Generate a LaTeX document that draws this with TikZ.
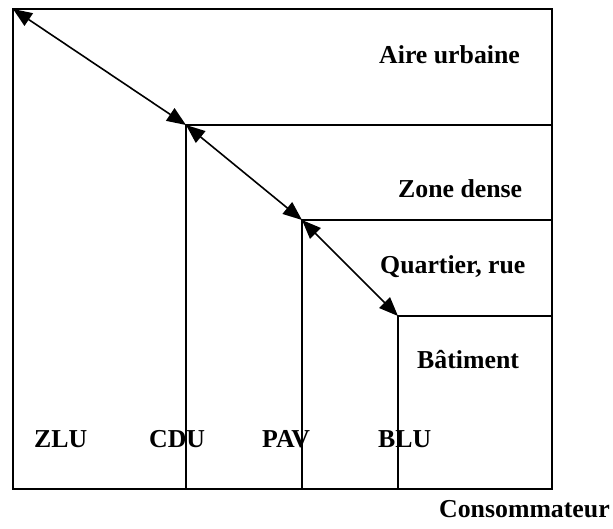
\documentclass[tikz,border=0pt]{standalone}
\usepackage{fontspec}
\setmainfont{Liberation Serif}
\usetikzlibrary{arrows.meta}
\tikzset{
  levellabel/.style={font=\fontsize{25.8}{30}\selectfont\bfseries, anchor=base west, inner sep=0pt},
  scalearrow/.style={{Triangle[length=19pt,width=15pt]}-{Triangle[length=19pt,width=15pt]}, line width=1.6pt}
}
\begin{document}
\begin{tikzpicture}[x=1pt,y=-1pt]
        \useasboundingbox (0,0) rectangle (613,528);
        % frame
        \draw [line width=2pt] (13,9) rectangle (552,489);
        % corners of the levels
        \coordinate (zlu) at (13,9);
        \coordinate (cdu) at (186,125);
        \coordinate (pav) at (302,220);
        \coordinate (blu) at (398,316);
        % levels
        \draw [line width=1.6pt] (552,125) -- (cdu) -- (186,489);
        \draw [line width=1.6pt] (552,220) -- (pav) -- (302,489);
        \draw [line width=1.6pt] (552,316) -- (blu) -- (398,489);
        % arrows
        \draw [scalearrow] (zlu) -- (cdu);
        \draw [scalearrow] (cdu) -- (pav);
        \draw [scalearrow] (pav) -- (blu);
        % labels
        \node (aire) [levellabel] at (379,63) {Aire urbaine};
        \node (zone) [levellabel] at (398,197) {Zone dense};
        \node (quartier) [levellabel] at (380,273) {Quartier, rue};
        \node (batiment) [levellabel] at (417,368) {Bâtiment};
        \node (zlulabel) [levellabel] at (34,447) {ZLU};
        \node (cdulabel) [levellabel] at (149,447) {CDU};
        \node (pavlabel) [levellabel] at (262,447) {PAV};
        \node (blulabel) [levellabel] at (378,447) {BLU};
        \node (conso) [levellabel] at (439,517) {Consommateur};
    \end{tikzpicture}
\end{document}
